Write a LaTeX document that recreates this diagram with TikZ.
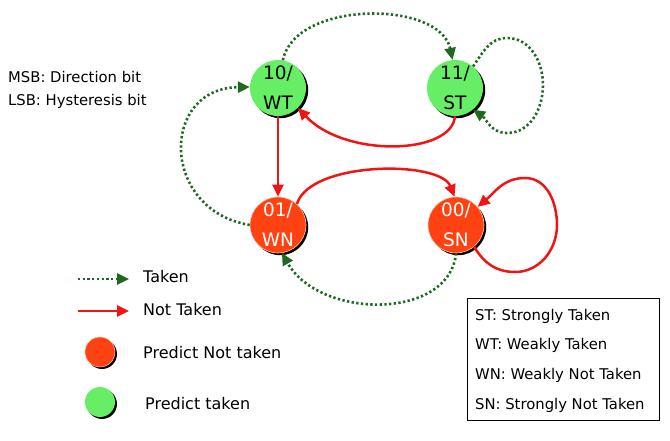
\documentclass[tikz,border=0pt]{standalone}
\usepackage{fontspec}
\setmainfont{DejaVu Sans}
\usetikzlibrary{arrows.meta,shadows}
\definecolor{tgreen}{RGB}{30,105,30}
\definecolor{ntred}{RGB}{240,20,20}
\definecolor{pgreen}{RGB}{102,238,102}
\definecolor{pred}{RGB}{255,66,18}
\tikzset{
  stbase/.style={circle,minimum size=56pt,inner sep=0pt,align=center,
    font=\fontsize{18.5}{30}\selectfont,
    drop shadow={shadow xshift=2.2pt,shadow yshift=-2.2pt,fill=black,opacity=1}},
  tstate/.style={stbase,fill=pgreen,text=black},
  nstate/.style={stbase,fill=pred,text=white,draw=pred!30!white,line width=0.6pt},
  legcirc/.style={circle,minimum size=30pt,inner sep=0pt,
    drop shadow={shadow xshift=2pt,shadow yshift=-2pt,fill=black,opacity=1}},
  takenarr/.style={tgreen,line width=2.6pt,dash pattern=on 2.3pt off 2.4pt,
    -{Triangle[length=12pt,width=11pt]}},
  ntarr/.style={ntred,line width=2.5pt,-{Triangle[length=12pt,width=11pt]}},
  smalltxt/.style={anchor=west,inner sep=0pt,font=\fontsize{14.8}{18}\selectfont},
  legtxt/.style={anchor=west,inner sep=0pt,font=\fontsize{16}{19}\selectfont},
}
\begin{document}
\begin{tikzpicture}[x=1pt,y=1pt]
\useasboundingbox (0,0) rectangle (670,440);
% states
\node[tstate] (wt) at (278,352) {10/\\WT};
\node[tstate] (st) at (455,352) {11/\\ST};
\node[nstate] (wn) at (278,215) {01/\\WN};
\node[nstate] (sn) at (456,215) {00/\\SN};
% info text
\node[smalltxt] (msb) at (8,363) {MSB: Direction bit};
\node[smalltxt] (lsb) at (8,339) {LSB: Hysteresis bit};
% taken transitions
\draw[takenarr] (wt.80) .. controls (295,440) and (440,440) .. (st.95);
\draw[takenarr] (st.50) to[out=55,in=180] (507,402) to[out=0,in=90] (543,355)
   to[out=-90,in=0] (507,307) to[out=180,in=-35] (st.-50);
\draw[takenarr] (sn.-90) .. controls (450,120) and (320,120) .. (wn.-82);
\draw[takenarr] (wn.180) .. controls (160,230) and (160,352) .. (wt.178);
% not taken transitions
\draw[ntarr] (st.-90) .. controls (452,285) and (345,282) .. (wt.-45);
\draw[ntarr] (wt.south) -- (wn.north);
\draw[ntarr] (wn.48) .. controls (310,279) and (440,280) .. (sn.93);
\draw[ntarr] (sn.-50) to[out=-60,in=180] (515,168) to[out=0,in=-90] (557,215)
   to[out=90,in=0] (525,262) to[out=180,in=40] (sn.40);
% legend
\coordinate (l1a) at (78,161); \coordinate (l1b) at (129,161);
\coordinate (l2a) at (78,129); \coordinate (l2b) at (129,129);
\draw[takenarr] (l1a) -- (l1b);
\draw[ntarr] (l2a) -- (l2b);
\node[legtxt] (ltaken) at (143,163) {Taken};
\node[legtxt] (lnt) at (143,130) {Not Taken};
\node[legcirc,fill=pred,draw=pred!30!white,line width=0.5pt] (lrc) at (100,88) {};
\node[legcirc,fill=pgreen] (lgc) at (100,38) {};
\node[legtxt] (lpnt) at (143,87) {Predict Not taken};
\node[legtxt] (lpt) at (145,36) {Predict taken};
% abbreviations box
\draw[black,line width=0.8pt] (467,20) rectangle (659,142);
\node[smalltxt] (ab1) at (475,124) {ST: Strongly Taken};
\node[smalltxt] (ab2) at (475,95) {WT: Weakly Taken};
\node[smalltxt] (ab3) at (475,65) {WN: Weakly Not Taken};
\node[smalltxt] (ab4) at (475,35) {SN: Strongly Not Taken};
\end{tikzpicture}
\end{document}
